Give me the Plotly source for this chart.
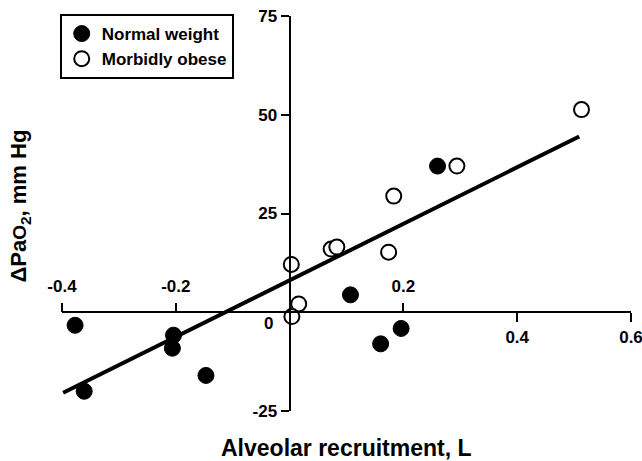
import plotly.graph_objects as go

# Alveolar recruitment (L) vs change in PaO2 (mm Hg)
normal_x = [-0.377, -0.361, -0.204, -0.206, -0.147, 0.107, 0.196, 0.160, 0.260]
normal_y = [-3.3, -20.0, -5.8, -9.1, -16.0, 4.4, -4.1, -8.0, 37.0]

obese_x = [0.513, 0.294, 0.183, 0.174, 0.073, 0.083, 0.003, 0.016, 0.004]
obese_y = [51.3, 37.0, 29.4, 15.2, 16.0, 16.5, 12.1, 2.1, -1.1]

# regression line end points
fit_x = [-0.398, 0.509]
fit_y = [-20.4, 44.5]

x_range = [-0.4, 0.6]
y_range = [-25, 75]
x_ticks_top = [-0.4, -0.2, 0.2]
x_ticks_bottom = [0.4, 0.6]
y_ticks = [-25, 25, 50, 75]

FONT = "Liberation Sans, Arial, Helvetica, sans-serif"

fig = go.Figure()

fig.add_trace(go.Scatter(
    x=fit_x, y=fit_y, mode="lines",
    line=dict(color="black", width=4),
    showlegend=False, hoverinfo="skip",
))

fig.add_trace(go.Scatter(
    x=normal_x, y=normal_y, mode="markers", name="Normal weight",
    marker=dict(symbol="circle", size=16, color="black",
                line=dict(color="black", width=1)),
))

fig.add_trace(go.Scatter(
    x=obese_x, y=obese_y, mode="markers", name="Morbidly obese",
    marker=dict(symbol="circle", size=15, color="white",
                line=dict(color="black", width=2)),
))

# empty trace that carries the upper tick axis
fig.add_trace(go.Scatter(x=[None], y=[None], xaxis="x2", showlegend=False,
                         hoverinfo="skip"))

x_pos = (0 - y_range[0]) / (y_range[1] - y_range[0])
y_pos = (0 - x_range[0]) / (x_range[1] - x_range[0])

tick_font = dict(family=FONT, size=17, color="black", weight="bold")

fig.update_layout(
    width=642, height=461,
    margin=dict(l=62, r=11, t=16, b=50, autoexpand=False),
    paper_bgcolor="white", plot_bgcolor="white",
    font=dict(family=FONT, color="black"),
    xaxis=dict(
        range=x_range, anchor="free", position=x_pos, side="bottom",
        tickvals=x_ticks_bottom, ticktext=["0.4", "0.6"],
        ticks="outside", ticklen=9, tickwidth=2, tickcolor="black",
        showline=True, linewidth=2, linecolor="black",
        showgrid=False, zeroline=False, tickfont=tick_font,
        ticklabeloverflow="allow", automargin=False,
    ),
    xaxis2=dict(
        range=x_range, anchor="free", position=x_pos, side="top",
        overlaying="x",
        tickvals=x_ticks_top, ticktext=["-0.4", "-0.2", "0.2"],
        ticks="outside", ticklen=9, tickwidth=2, tickcolor="black",
        showline=False, showgrid=False, zeroline=False, tickfont=tick_font,
        ticklabelstandoff=4, automargin=False,
    ),
    yaxis=dict(
        range=y_range, anchor="free", position=y_pos,
        tickvals=y_ticks, ticktext=[str(v) for v in y_ticks],
        ticks="outside", ticklen=8, tickwidth=2, tickcolor="black",
        showline=True, linewidth=2, linecolor="black",
        showgrid=False, zeroline=False, tickfont=tick_font,
        automargin=False,
    ),
    legend=dict(
        x=-0.004, y=1.005, xanchor="left", yanchor="top",
        bordercolor="black", borderwidth=2, bgcolor="white",
        font=dict(family=FONT, size=17, color="black", weight="bold"),
        tracegroupgap=0,
    ),
    showlegend=True,
)

fig.add_annotation(
    x=0, y=0, xref="x", yref="y", text="0", showarrow=False,
    xanchor="right", yanchor="top", xshift=-15, yshift=0,
    font=tick_font,
)

fig.add_annotation(
    x=0.5, y=-0.094, xref="paper", yref="paper",
    text="Alveolar recruitment, L", showarrow=False,
    xanchor="center", yanchor="middle",
    font=dict(family=FONT, size=23, color="black", weight="bold"),
)

fig.add_annotation(
    x=-0.074, y=0.52, xref="paper", yref="paper",
    text="ΔPa<span style='font-size:19px'>O</span><sub>2</sub>, mm Hg",
    showarrow=False, textangle=-90,
    xanchor="center", yanchor="middle",
    font=dict(family=FONT, size=22, color="black", weight="bold"),
)

fig.write_html("out.html")
